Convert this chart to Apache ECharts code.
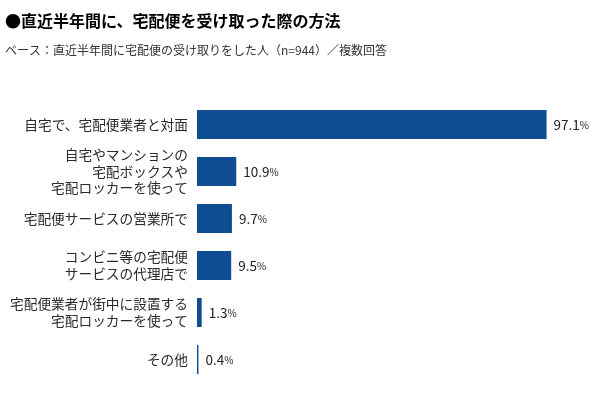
<!DOCTYPE html>
<html><head><meta charset="utf-8">
<script src="https://cdn.jsdelivr.net/npm/echarts@6/dist/echarts.min.js"></script>
<style>html,body{margin:0;padding:0;background:#fff}#c{width:600px;height:395px}</style>
</head><body><div id="c"></div>
<script>
const titleText = '●直近半年間に、宅配便を受け取った際の方法';
const subtitleText = 'ベース：直近半年間に宅配便の受け取りをした人（n=944）／複数回答';
const categories = [
  '自宅で、宅配便業者と対面',
  '自宅やマンションの\n宅配ボックスや\n宅配ロッカーを使って',
  '宅配便サービスの営業所で',
  'コンビニ等の宅配便\nサービスの代理店で',
  '宅配便業者が街中に設置する\n宅配ロッカーを使って',
  'その他'
];
const values = [97.1, 10.9, 9.7, 9.5, 1.3, 0.4];

const font = '"Noto Sans CJK JP", "Noto Sans", sans-serif';
const chart = echarts.init(document.getElementById('c'));
chart.setOption({
  animation: false,
  textStyle: { fontFamily: font },
  title: [
    { text: titleText, left: 0, top: 8, textStyle: { fontFamily: font, fontSize: 16, fontWeight: 'bold', color: '#000' } },
    { text: subtitleText, left: 0, top: 39, textStyle: { fontFamily: font, fontSize: 12, fontWeight: 'normal', color: '#333' } }
  ],
  grid: { left: 197, right: 43, top: 101, bottom: 12, containLabel: false },
  xAxis: { type: 'value', min: 0, max: 100, show: false },
  yAxis: {
    type: 'category', data: categories, inverse: true,
    axisLine: { show: false }, axisTick: { show: false },
    axisLabel: { margin: 9, fontSize: 13.7, lineHeight: 16.5, color: '#2a2a2a', fontFamily: font, align: 'right' }
  },
  series: [{
    type: 'bar', data: values, barWidth: 29,
    itemStyle: { color: '#0f4c91' },
    label: {
      show: true, position: 'right', distance: 7,
      formatter: p => '{n|' + p.value.toFixed(1) + '}{p|%}',
      rich: {
        n: { fontSize: 13.5, color: '#222', fontFamily: font },
        p: { fontSize: 10, color: '#222', fontFamily: font, padding: [2, 0, 0, 0] }
      }
    }
  }]
});
</script></body></html>
